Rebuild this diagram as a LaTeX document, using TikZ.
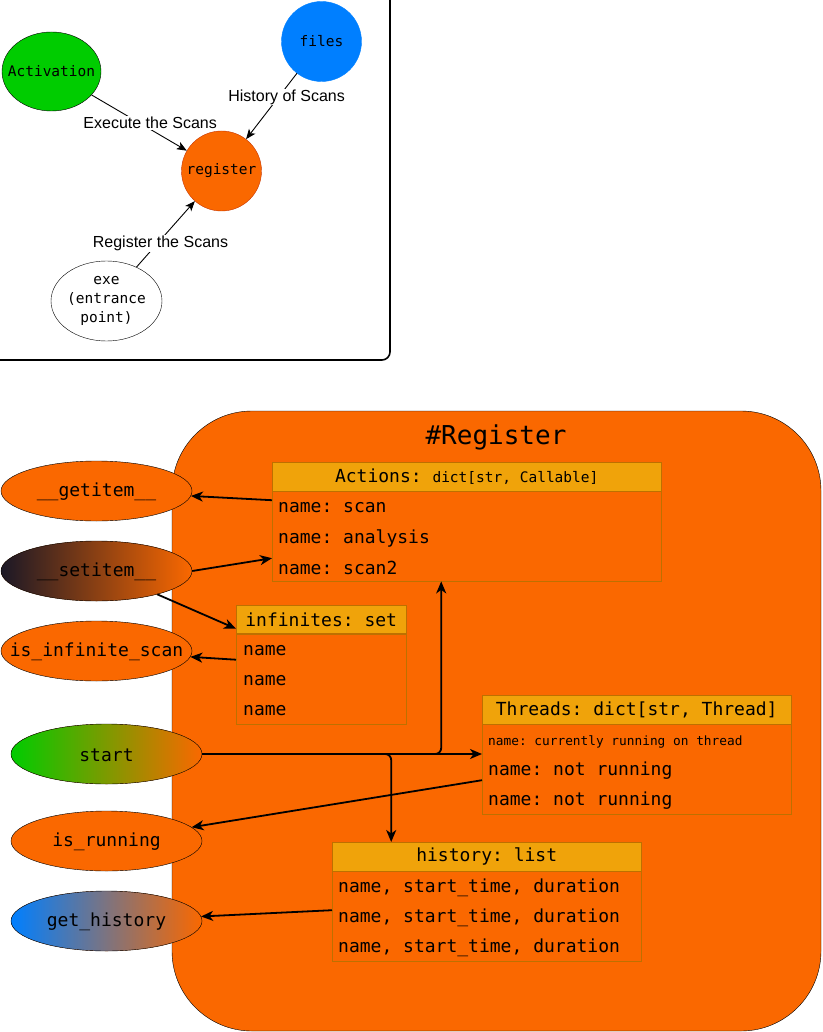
\documentclass[tikz,border=0pt]{standalone}
\usepackage{fontspec}
\setmainfont{Liberation Sans}
\setsansfont{Liberation Sans}
\setmonofont{DejaVu Sans Mono}
\usetikzlibrary{positioning,arrows.meta,shapes.geometric}
\definecolor{regorange}{HTML}{FA6800}
\definecolor{regedge}{HTML}{C73500}
\definecolor{hdrfill}{HTML}{F0A30A}
\definecolor{tbledge}{HTML}{BD7000}
\definecolor{actgreen}{HTML}{00CC00}
\definecolor{fileblue}{HTML}{007FFF}
\definecolor{darkend}{HTML}{1B1826}
\tikzset{
    every node/.style={
        font=\ttfamily
    },
    bubble/.style={
        shape=ellipse,
        draw,
        inner sep=0pt,
        label={[align=center, font=\fontsize{14.5}{19}\selectfont\ttfamily]center:#1}
    },
    method/.style={
        shape=ellipse,
        draw,
        fill=regorange,
        inner sep=0pt,
        minimum width=191pt,
        minimum height=60pt,
        label={[font=\fontsize{18}{20}\selectfont\ttfamily, yshift=-1pt]center:#1}
    },
    tblhead/.style={
        shape=rectangle,
        draw=tbledge,
        fill=hdrfill,
        anchor=north west,
        minimum height=29pt,
        inner sep=0pt,
        font=\fontsize{18}{20}\selectfont\ttfamily
    },
    tblbody/.style={
        shape=rectangle,
        draw=tbledge,
        anchor=north west,
        inner sep=0pt
    },
    entry/.style={
        anchor=west,
        inner sep=0pt,
        font=\fontsize{18}{20}\selectfont\ttfamily
    },
    flowlabel/.style={
        fill=white,
        inner sep=1pt,
        font=\fontsize{16}{18}\selectfont\sffamily
    }
}
\tikzstyle{conn} = [->, line width=1.8pt, >={Stealth[length=12pt, width=10pt, inset=3.5pt]}]
\tikzstyle{flow} = [->, line width=0.9pt, >={Stealth[length=10pt, width=8pt, inset=2.5pt]}]

\begin{document}
\begin{tikzpicture}[x=1pt, y=-1pt]
		\useasboundingbox (0,0) rectangle (822,1032);
		
		\draw [line width=1.6pt, rounded corners=8pt] (390,-5) -- (390,360) -- (-5,360);
		
		\node (acti) at (51.5,71.5) [bubble=Activation, fill=actgreen, minimum width=99pt, minimum height=79pt] {};
		\node (fil) at (321.5,41.5) [bubble=files, draw=fileblue, fill=fileblue, minimum width=80pt, minimum height=80pt] {};
		\node (regc) at (221.5,171) [bubble=register, draw=regedge, fill=regorange, minimum width=80pt, minimum height=80pt] {};
		\node (exe) at (106.5,301) [bubble={exe\\(entrance\\point)}, fill=white, minimum width=111pt, minimum height=80pt] {};
		
		\draw [flow] (acti) -- node (lex) [flowlabel, pos=0.5, xshift=11pt] {Execute the Scans} (regc);
		\draw [flow] (fil) -- node (lhi) [flowlabel, pos=0.36, xshift=8pt] {History of Scans} (regc);
		\draw [flow] (exe) -- node (lre) [flowlabel, pos=0.36, xshift=3pt] {Register the Scans} (regc);
		
		\node (box) at (496.5,721) [shape=rectangle, draw, fill=regorange, rounded corners=80pt, minimum width=649pt, minimum height=620pt] {};
		\node (boxt) at (496,437) [font=\fontsize{26}{28}\selectfont\ttfamily] {\#Register};
		
		\node (acth) at (272,462) [tblhead, minimum width=389pt] {Actions: {\fontsize{14.5}{16}\selectfont dict[str, Callable]}};
		\node (actb) at (272,491) [tblbody, minimum width=389pt, minimum height=90pt] {};
		\node (act1) at (278,508) [entry] {name: scan};
		\node (act2) at (278,538) [entry] {name: analysis};
		\node (act3) at (278,568) [entry] {name: scan2};
		
		\node (infh) at (236,605) [tblhead, minimum width=170pt] {infinites: set};
		\node (infb) at (236,633) [tblbody, minimum width=170pt, minimum height=91pt] {};
		\node (inf1) at (243,651) [entry] {name};
		\node (inf2) at (243,681) [entry] {name};
		\node (inf3) at (243,711) [entry] {name};
		
		\node (thh) at (482,695) [tblhead, minimum width=309pt] {Threads: dict[str, Thread]};
		\node (thb) at (482,724) [tblbody, minimum width=309pt, minimum height=90pt] {};
		\node (th1) at (488,742) [entry, font=\fontsize{12.8}{14}\selectfont\ttfamily] {name: currently running on thread};
		\node (th2) at (488,771) [entry] {name: not running};
		\node (th3) at (488,801) [entry] {name: not running};
		
		\node (hish) at (332,842) [tblhead, minimum width=309pt] {history: list};
		\node (hisb) at (332,871) [tblbody, minimum width=309pt, minimum height=90pt] {};
		\node (his1) at (338,888) [entry] {name, start\_time, duration};
		\node (his2) at (338,918) [entry] {name, start\_time, duration};
		\node (his3) at (338,948) [entry] {name, start\_time, duration};
		
		\node (get) at (96.5,491) [method=\_\_getitem\_\_] {};
		\node (set) at (96.5,571) [method=\_\_setitem\_\_, left color=darkend, right color=regorange] {};
		\node (isi) at (96.5,651) [method=is\_infinite\_scan] {};
		\node (st) at (106.5,754) [method=start, left color=actgreen, right color=regorange] {};
		\node (run) at (106.5,841) [method=is\_running] {};
		\node (geth) at (106.5,921) [method=get\_history, left color=fileblue, right color=regorange] {};
		
		\draw [conn] ([yshift=36pt]actb.west) -- (get);
		\draw [conn] (set.east) -- ([yshift=-22pt]actb.west);
		\draw [conn] (set.-21) -- ([yshift=-9pt]infh.west);
		\draw [conn] ([yshift=19pt]infb.west) -- (isi);
		\draw [conn] (st.east) -- (st.east -| thb.west);
		\draw [conn, rounded corners=6pt] (st.east) -| ([xshift=-25.5pt]actb.south);
		\draw [conn, rounded corners=6pt] (st.east) -| ([xshift=-95.5pt]hish.north);
		\draw [conn] ([yshift=-11pt]thb.west) -- (run);
		\draw [conn] ([yshift=6pt]hisb.west) -- (geth);
	\end{tikzpicture}
\end{document}
